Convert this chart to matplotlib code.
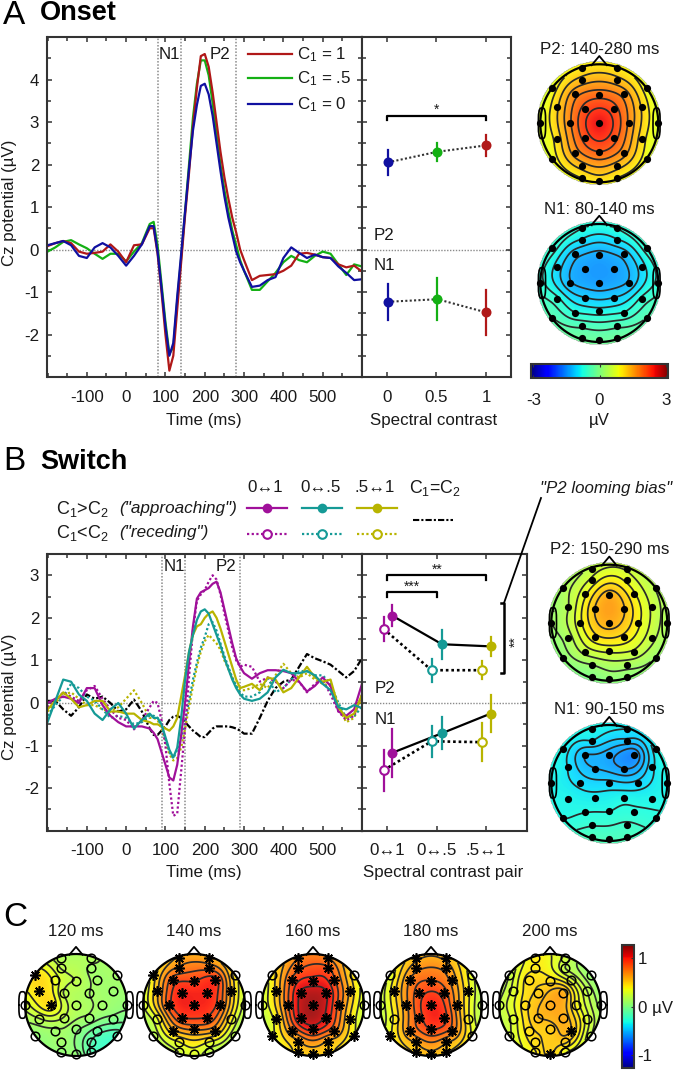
import numpy as np
import matplotlib
matplotlib.use("Agg")
import matplotlib.pyplot as plt
from matplotlib.cm import ScalarMappable
from matplotlib.colors import Normalize

plt.rcParams['font.family'] = ['Liberation Sans', 'DejaVu Sans']
plt.rcParams['mathtext.fontset'] = 'custom'
plt.rcParams['mathtext.rm'] = 'Liberation Sans'
plt.rcParams['mathtext.it'] = 'Liberation Sans:italic'
plt.rcParams['mathtext.default'] = 'regular'
plt.rcParams['axes.unicode_minus'] = False

# ---------- time axis of the ERP curves ----------
time_ms = list(range(-200, 61, 20)) + list(range(70, 301, 10)) + list(range(320, 601, 20))

# ---------- panel A: onset ERPs ----------
onset_c1_1 = [.08,.15,.2,.15,-.05,-.1,-.08,-.05,.12,-.05,-.3,.1,.12,.5,
 .5,-.1,-1.0,-2.0,-2.85,-2.5,-1.4,-.3,.8,1.8,2.9,3.8,4.55,4.6,4.3,3.7,3.0,2.3,1.7,1.2,.75,.4,0,-.25,
 -.72,-.62,-.6,-.58,-.5,-.38,-.1,-.08,-.12,-.18,-.2,-.35,-.42,-.38,-.52]
onset_c1_05 = [-.05,.05,.18,.22,.12,.03,-.1,-.22,-.1,-.1,-.28,-.05,.15,.6,
 .65,.1,-.8,-1.7,-2.45,-2.3,-1.2,-.2,.9,2.0,3.1,3.9,4.45,4.45,4.1,3.45,2.7,2.0,1.4,.9,.45,.1,-.25,-.5,
 -.95,-.95,-.75,-.55,-.3,-.15,-.25,-.3,-.15,-.05,-.1,-.35,-.6,-.35,-.4]
onset_c1_0 = [.1,.15,.2,.1,-.15,-.2,.05,.15,.05,-.15,-.38,-.15,.12,.55,
 .55,-.05,-.9,-1.8,-2.5,-2.2,-1.1,-.1,.9,1.9,2.8,3.4,3.85,3.9,3.65,3.15,2.5,1.85,1.25,.75,.35,-.05,-.3,-.5,
 -.88,-.85,-.72,-.65,-.2,.05,-.08,-.2,-.12,-.18,-.2,-.4,-.55,-.72,-.7]

# ---------- panel B: switch ERPs ----------
app_01 = [0,.1,.15,.1,0,.35,.35,-.05,-.3,-.45,-.55,-.55,-.55,-.6,
 -.7,-.85,-1.15,-1.45,-1.75,-1.82,-1.45,-.75,0,.95,1.8,2.45,2.6,2.65,2.7,2.8,2.85,2.6,2.2,1.8,1.4,1.05,.85,.7,
 .57,.7,.77,.77,.75,.7,.5,.27,.4,.6,.4,-.2,-.3,-.15,.45]
rec_01 = [-.1,.05,.25,.15,.05,.3,.4,.1,-.15,-.35,-.4,-.62,-.4,-.1,
 .05,0,-.4,-1.0,-1.9,-2.65,-2.6,-1.6,-.6,.6,1.7,2.4,2.55,2.65,2.85,3.0,2.9,2.55,2.1,1.7,1.3,1.0,.85,.9,
 .85,.5,.6,.5,.35,.55,.5,.25,.45,.55,.2,-.2,-.4,-.3,.2]
app_05 = [-.45,.05,.55,.5,.2,.05,-.25,-.4,-.15,0,-.25,-.6,-.4,-.25,
 -.35,-.35,-.5,-.8,-1.1,-1.28,-1.05,-.35,.55,1.2,1.6,1.95,2.15,2.2,2.1,1.85,1.6,1.35,1.05,.8,.55,.35,.2,.1,
 .05,.1,.25,.6,.78,.7,.7,.75,.65,.45,.3,-.1,-.15,-.05,-.12]
rec_05 = [-.3,-.05,.15,.45,.35,.15,.05,-.15,-.35,-.3,-.35,-.5,-.45,-.3,
 -.3,-.35,-.55,-.85,-1.15,-1.3,-1.1,-.85,-.45,.05,.55,.95,1.3,1.55,1.85,1.9,1.7,1.4,1.1,.85,.6,.4,.25,.15,
 .15,.25,.6,.25,.35,.55,.75,.75,.65,.65,.45,0,-.35,-.3,-.1]
app_51 = [-.15,.05,.25,.1,-.1,-.05,.05,.05,-.2,-.2,-.25,-.25,-.4,-.45,
 -.5,-.5,-.55,-.6,-.65,-.55,-.35,.15,.65,1.2,1.6,1.8,1.85,2.0,2.1,2.15,2.0,1.75,1.45,1.15,.85,.55,.35,.38,
 .45,.3,.6,.55,.25,.35,.6,.85,.6,.5,.55,-.1,-.35,-.25,.2]
rec_51 = [-.2,0,.2,.25,.1,-.05,-.05,-.15,-.2,-.1,.1,.3,0,-.35,
 -.35,-.4,-.6,-.9,-1.2,-1.35,-1.3,-1.05,-.6,-.1,.4,.85,1.2,1.45,1.6,1.5,1.4,1.25,1.0,.8,.6,.4,.3,.3,
 .35,.45,.35,.65,.92,.7,.6,.7,.55,.45,.4,-.1,-.45,-.35,.15]
equal_c = [.05,.05,-.15,-.3,-.1,.2,.1,.15,0,-.2,-.15,.08,-.2,-.6,
 -.75,-.75,-.65,-.55,-.4,-.32,-.3,-.35,-.45,-.55,-.65,-.72,-.8,-.8,-.7,-.6,-.55,-.55,-.55,-.55,-.57,-.6,-.65,-.72,
 -.72,-.35,.05,.35,.5,.55,.85,1.15,1.05,.98,.9,.75,.6,.75,1.05]

# ---------- summary points ----------
contrast = [0.01, 0.51, 1.0]
a_p2 = [2.05, 2.3, 2.45];    a_p2_err = [.29, .21, .25]
a_n1 = [-1.23, -1.17, -1.48]; a_n1_err = [.43, .49, .52]

pair_labels = ['0\u21941', '0\u2194.5', '.5\u21941']
pair_app_x = [.107, 1.11, 2.09]
pair_rec_x = [-.07, .9, 1.91]
b_p2_app = [2.05, 1.38, 1.33];  b_p2_app_err = [.25, .34, .23]
b_p2_rec = [1.74, .77, .77];    b_p2_rec_err = [.28, .27, .21]
b_n1_app = [-1.17, -.71, -.25]; b_n1_app_err = [.57, .38, .44]
b_n1_rec = [-1.58, -.9, -.92];  b_n1_rec_err = [.48, .36, .44]

# ---------- scalp maps: electrode layout and values (uV) ----------
sites = ['Fp1','Fp2','AF3','AF4','F7','F3','Fz','F4','F8','FC5','FC1','FC2','FC6','T7','C3','Cz','C4','T8',
         'CP5','CP1','CP2','CP6','P7','P3','Pz','P4','P8','PO3','PO4','O1','Oz','O2']
site_x = [-.3,.3,-.3,.3,-.8,-.42,0,.42,.81,-.72,-.24,.25,.73,-1,-.5,0,.5,1,
          -.72,-.24,.25,.73,-.8,-.42,0,.42,.81,-.3,.3,-.3,0,.3]
site_y = [.93,.93,.73,.73,.59,.49,.48,.49,.59,.27,.24,.24,.27,0,0,0,0,0,
          -.27,-.25,-.25,-.27,-.6,-.5,-.48,-.5,-.6,-.73,-.73,-.93,-.97,-.93]
map_a_p2 = [1.0,1.0,1.3,1.3,.8,1.6,1.85,1.6,.8,1.15,2.05,2.05,1.15,.7,1.65,2.45,1.65,.7,1.05,2.05,2.05,1.05,.8,1.55,1.95,1.55,.8,1.3,1.3,.95,1.05,.95]
map_a_n1 = [-.7,-.7,-.9,-.9,-.6,-1.15,-1.3,-1.15,-.6,-.95,-1.35,-1.35,-.95,-.65,-1.2,-1.35,-1.2,-.65,-.65,-1.05,-1.05,-.65,-.35,-.7,-.8,-.7,-.35,-.4,-.4,-.2,-.2,-.2]
map_b_p2 = [.5,.6,.7,.8,.3,.8,1.4,.9,.4,.4,1.3,1.3,.6,.2,.8,1.4,.9,.3,.3,1.0,1.0,.5,.1,.5,.7,.6,.2,.2,.3,0,.1,.1]
map_b_n1 = [-.8,-.9,-.9,-1.1,-.8,-1.2,-1.3,-1.5,-.8,-.9,-1.2,-1.35,-.95,-.8,-.95,-1.0,-1.0,-.8,-.8,-.85,-.8,-.8,-.75,-.75,-.75,-.7,-.7,-.6,-.55,-.45,-.45,-.45]
map_120 = [.15,.15,.2,.1,.45,.35,.2,.1,.1,.45,.2,.12,.08,.25,.45,.15,.1,.05,.2,.2,.1,0,.05,.1,.05,-.1,-.2,.1,-.15,.05,.05,-.15]
map_140 = [.6,.6,.7,.75,.4,.85,.9,.95,.4,.55,1.0,1.0,.55,.25,.85,1.0,.85,.2,.35,.9,.9,.4,.15,.55,.7,.6,.15,.35,.35,.25,.3,.2]
map_160 = [.7,.7,.8,.85,.4,.85,1.0,.85,.4,.5,1.1,1.1,.55,.25,.8,1.2,.8,.25,.4,1.1,1.05,.45,.3,.7,1.0,.75,.35,.55,.55,.5,.5,.5]
map_180 = [.55,.55,.65,.65,.3,.7,.8,.65,.3,.45,.85,.85,.4,.2,.65,1.0,.65,.15,.4,.85,.95,.4,.35,.7,.9,.75,.35,.6,.6,.5,.55,.5]
map_200 = [.4,.25,.4,.2,.2,.45,.45,.3,.05,.3,.5,.6,.2,.2,.45,.6,.4,.1,.3,.55,.6,.3,.25,.45,.5,.55,.2,.45,.5,.4,.5,.35]
sig_120 = ['F7','FC5','C3']
sig_140 = ['Fp1','Fp2','AF3','AF4','F7','F3','Fz','F4','FC5','FC1','FC2','FC6','C3','Cz','C4','CP1','CP2','P3','Pz','P4']
sig_160 = ['Fp1','Fp2','AF3','AF4','F3','Fz','F4','FC5','FC1','FC2','FC6','C3','Cz','C4','CP5','CP1','CP2','CP6','P7','P3','Pz','P4','P8','PO3','PO4','O1','Oz','O2']
sig_180 = ['Fp1','Fp2','AF3','AF4','F3','Fz','F4','FC5','FC1','FC2','FC6','C3','Cz','C4','CP1','CP2','P7','P3','Pz','P4','PO3','PO4','O1','Oz','O2']
sig_200 = ['P4','Oz']
c_times = ['120 ms','140 ms','160 ms','180 ms','200 ms']

# ---------- colours ----------
RED, GREEN, BLUE = '#b01818', '#14b014', '#1010a0'
PURPLE, TEAL, OLIVE = '#a0109a', '#159a96', '#b8b400'
SPINE, TXT = '#333333', '#1a1a1a'
FS = 12.2
DOT = (0, (1, 1.1))

fig = plt.figure(figsize=(6.77, 10.71), dpi=100)
W, H = 677, 1071

def px_axes(l, t, r, b):
    return fig.add_axes([l / W, 1 - b / H, (r - l) / W, (b - t) / H])

ov = fig.add_axes([0, 0, 1, 1], zorder=10)
ov.axis('off')

def style(ax, xticks, xminor, yticks, ylim, xlim):
    ax.set_xlim(*xlim)
    ax.set_ylim(*ylim)
    ax.set_xticks(xticks)
    ax.set_xticks(xminor, minor=True)
    ax.set_yticks(yticks)
    ax.set_yticks(np.arange(ylim[0], ylim[1] + .01, .5), minor=True)
    ax.tick_params(which='both', direction='in', top=True, right=True, color=SPINE, labelcolor=TXT, labelsize=FS)
    ax.tick_params(which='major', length=3.6, width=1.1)
    ax.tick_params(which='minor', length=2.6, width=1.1)
    ax.tick_params(axis='x', pad=9)
    ax.tick_params(axis='y', pad=6)
    for s in ax.spines.values():
        s.set_linewidth(1.5)
        s.set_color(SPINE)
    ax.axhline(0, color='#8a8a8a', lw=1, ls=DOT, zorder=1)

# ---------- ERP panels ----------
def erp_axes(t, b, ylim, yticks, wins, ylab_y, xlab_y):
    ax = px_axes(47.5, t, 362, b)
    style(ax, list(range(-100, 501, 100)), list(range(-200, 601, 50)), yticks, ylim, (-200, 600))
    for w in wins:
        ax.axvline(w, color='#8a8a8a', lw=1.1, ls=DOT, zorder=1)
    ax.set_xlabel('Time (ms)', fontsize=FS, color=TXT, va='center')
    ax.xaxis.set_label_coords(204, xlab_y, transform=ov.transData)
    ax.set_ylabel('Cz potential (\u00b5V)', fontsize=FS, color=TXT, va='center')
    ax.yaxis.set_label_coords(10, ylab_y, transform=ov.transData)
    return ax

ax_a = erp_axes(37, 377, (-3, 5), list(range(-2, 5)), [80, 140, 280], 203, 421)
ax_a.plot(time_ms, onset_c1_05, color=GREEN, lw=1.6)
ax_a.plot(time_ms, onset_c1_1, color=RED, lw=1.6)
ax_a.plot(time_ms, onset_c1_0, color=BLUE, lw=1.6)
ax_a.text(110, 4.58, 'N1', ha='center', va='center', fontsize=FS, color=TXT)
ax_a.text(240, 4.58, 'P2', ha='center', va='center', fontsize=FS, color=TXT)

ax_b = erp_axes(554, 830.7, (-3, 3.5), list(range(-2, 4)), [90, 150, 290], 697, 873)
for s, c, ls in [(equal_c, 'black', (0, (3, 1, 1, 1))), (rec_51, OLIVE, DOT), (rec_05, TEAL, DOT), (rec_01, PURPLE, DOT),
                 (app_01, PURPLE, '-'), (app_51, OLIVE, '-'), (app_05, TEAL, '-')]:
    ax_b.plot(time_ms, s, color=c, lw=1.6, ls=ls)
ax_b.text(123, 3.2, 'N1', ha='center', va='center', fontsize=FS, color=TXT)
ax_b.text(255, 3.2, 'P2', ha='center', va='center', fontsize=FS, color=TXT)

# ---------- summary panel A ----------
ax_a2 = px_axes(362, 37, 511, 377)
style(ax_a2, [0, .5, 1], [], list(range(-2, 5)), (-3, 5), (-.25, 1.25))
ax_a2.set_xticklabels(['0', '0.5', '1'])
ax_a2.set_yticklabels([])
ax_a2.set_xlabel('Spectral contrast', fontsize=FS, color=TXT, va='center')
ax_a2.xaxis.set_label_coords(434, 421, transform=ov.transData)
for vals, errs in [(a_p2, a_p2_err), (a_n1, a_n1_err)]:
    ax_a2.plot(contrast, vals, color='#333333', lw=1.5, ls=DOT, zorder=2)
    for x, v, e, c in zip(contrast, vals, errs, [BLUE, GREEN, RED]):
        ax_a2.plot([x, x], [v - e, v + e], color=c, lw=1.6, zorder=3)
        ax_a2.plot([x], [v], 'o', color=c, ms=7.2, mew=0, zorder=4)
ax_a2.plot([0, 0, 1, 1], [3.05, 3.15, 3.15, 3.05], color='black', lw=1.6)
ax_a2.text(.5, 3.28, '*', ha='center', va='center', fontsize=10, color=TXT)
ax_a2.text(-.13, .34, 'P2', va='center', fontsize=FS, color=TXT)
ax_a2.text(-.13, -.38, 'N1', va='center', fontsize=FS, color=TXT)

# ---------- summary panel B ----------
ax_b2 = px_axes(362, 554, 526.7, 830.7)
style(ax_b2, [0, 1, 2], [], list(range(-2, 4)), (-3, 3.5), (-.505, 2.82))
ax_b2.set_xticklabels(pair_labels)
ax_b2.set_yticklabels([])
ax_b2.set_xlabel('Spectral contrast pair', fontsize=FS, color=TXT, va='center')
ax_b2.xaxis.set_label_coords(443, 873, transform=ov.transData)
for vals, errs, xs, filled in [(b_p2_rec, b_p2_rec_err, pair_rec_x, False), (b_p2_app, b_p2_app_err, pair_app_x, True),
                               (b_n1_rec, b_n1_rec_err, pair_rec_x, False), (b_n1_app, b_n1_app_err, pair_app_x, True)]:
    ax_b2.plot(xs, vals, color='black', lw=1.6 if filled else 1.9, ls='-' if filled else DOT, zorder=2)
    for x, v, e, c in zip(xs, vals, errs, [PURPLE, TEAL, OLIVE]):
        ax_b2.plot([x, x], [v - e, v + e], color=c, lw=1.6, zorder=3)
        ax_b2.plot([x], [v], 'o', mec=c, mfc=c if filled else 'white', ms=7.2 if filled else 6.2,
                   mew=0 if filled else 1.5, zorder=4)
ax_b2.plot([0, 0, 2, 2], [2.9, 3.0, 3.0, 2.9], color='black', lw=1.6)
ax_b2.plot([0, 0, 1, 1], [2.5, 2.6, 2.6, 2.5], color='black', lw=1.6)
ax_b2.plot([2.3, 2.36, 2.36, 2.3], [2.34, 2.34, .7, .7], color='black', lw=1.8)
ax_b2.text(1.02, 3.13, '**', ha='center', va='center', fontsize=10, color=TXT)
ax_b2.text(.5, 2.73, '***', ha='center', va='center', fontsize=10, color=TXT)
ax_b2.text(2.6, 1.45, '**', ha='center', va='center', fontsize=10, color=TXT, rotation=90)
ax_b2.text(-.25, .34, 'P2', va='center', fontsize=FS, color=TXT)
ax_b2.text(-.25, -.38, 'N1', va='center', fontsize=FS, color=TXT)

# ---------- scalp maps ----------
sx, sy = np.array(site_x), np.array(site_y)

def biharm(vals, X, Y):
    d = np.hypot(sx[:, None] - sx[None, :], sy[:, None] - sy[None, :])
    d[d == 0] = 1
    G = d ** 2 * (np.log(d) - 1)
    np.fill_diagonal(G, 0)
    w = np.linalg.solve(G, np.array(vals, float))
    r = np.hypot(X[..., None] - sx, Y[..., None] - sy)
    r[r == 0] = 1e-6
    return (r ** 2 * (np.log(r) - 1) * w).sum(-1)

def head(cx, cy, R, vals, norm, disc=1.05, ear=(.91, 1.03), nlev=6, sig=None):
    e = disc
    g = np.linspace(-e, e, 170)
    X, Y = np.meshgrid(g, g[::-1])
    Z = biharm(vals, X, Y)
    rr = np.hypot(X, Y)
    ov.imshow(np.ma.masked_where(rr > disc, Z), cmap='jet', norm=norm, aspect='auto', origin='upper',
              extent=(cx - R * e, cx + R * e, cy + R * e, cy - R * e), interpolation='bilinear', alpha=.9, zorder=1)
    inside = np.ma.masked_where(rr > .985, Z)
    zin = Z[rr <= .985]
    lev = np.linspace(zin.min(), zin.max(), nlev + 2)[1:-1]
    ov.contour(cx + R * X, cy - R * Y, inside, levels=lev, colors='#2a2a2a', linewidths=1.25,
               negative_linestyles='solid', zorder=2)
    th = np.linspace(0, 2 * np.pi, 300)
    ov.plot(cx + R * np.cos(th), cy + R * np.sin(th), color='black', lw=1.6, zorder=3)
    ov.plot([cx - .13 * R, cx, cx + .13 * R], [cy - R * .985, cy - R * 1.14, cy - R * .985], color='black', lw=1.3, zorder=3)
    inner, outer = ear
    ct, st = np.cos(th), np.sin(th)
    ex = (outer + inner) / 2 + (outer - inner) / 2 * np.sign(ct) * np.abs(ct) ** .6
    ey = .26 * np.sign(st) * np.abs(st) ** .6
    for sgn in (-1, 1):
        ov.plot(cx + sgn * R * ex, cy + R * ey, color='black', lw=1.2, zorder=3)
    if sig is None:
        ov.plot(cx + R * sx, cy - R * sy, 'o', color='black', ms=5.2, mew=0, zorder=4)
    else:
        for n, x, y in zip(sites, sx, sy):
            if n in sig:
                ov.plot(cx + R * x, cy - R * y, marker=(8, 2, 0), color='black', ms=7.5, mew=1.2, zorder=4)
            else:
                ov.plot(cx + R * x, cy - R * y, 'o', mfc='none', mec='black', ms=6.2, mew=1.1, zorder=4)

norm3 = Normalize(-3, 3)
normc = Normalize(-1.27, 1.27)
head(599.3, 123.3, 59, map_a_p2, norm3)
head(599.3, 283, 59, map_a_n1, norm3)
head(609.3, 622.7, 58, map_b_p2, norm3)
head(609.3, 783, 58, map_b_n1, norm3)
c_maps = [map_120, map_140, map_160, map_180, map_200]
c_sigs = [sig_120, sig_140, sig_160, sig_180, sig_200]
c_cx = [76, 194, 313, 431, 550]
for m, sg, cx, lab in zip(c_maps, c_sigs, c_cx, c_times):
    head(cx, 1005, 51, m, normc, disc=1.0, ear=(.98, 1.12), nlev=7, sig=sg)
    ov.text(cx, 932, lab, ha='center', va='center', fontsize=FS, color=TXT)

ov.text(599.3, 49, 'P2: 140-280 ms', ha='center', va='center', fontsize=FS, color=TXT)
ov.text(599.3, 210, 'N1: 80-140 ms', ha='center', va='center', fontsize=FS, color=TXT)
ov.text(609.3, 549, 'P2: 150-290 ms', ha='center', va='center', fontsize=FS, color=TXT)
ov.text(609.3, 709, 'N1: 90-150 ms', ha='center', va='center', fontsize=FS, color=TXT)

# ---------- colour bars ----------
cax = px_axes(531, 364, 668, 378)
cb = fig.colorbar(ScalarMappable(norm3, 'jet'), cax=cax, orientation='horizontal')
cb.set_ticks([-2.9, 0, 2.9], labels=['-3', '0', '3'])
cax.tick_params(labelsize=FS, labelcolor=TXT, length=2, color=SPINE, pad=11, direction='in', top=True)
cb.outline.set_linewidth(1.5)
cb.outline.set_edgecolor(SPINE)
ov.text(599.3, 420, '\u00b5V', ha='center', va='center', fontsize=FS, color=TXT)

cax2 = px_axes(622, 945, 633.5, 1068)
cb2 = fig.colorbar(ScalarMappable(normc, 'jet'), cax=cax2, orientation='vertical')
cb2.set_ticks([-1, 0, 1], labels=['-1', '0 \u00b5V', '1'])
cax2.tick_params(labelsize=FS, labelcolor=TXT, length=2, color=SPINE, pad=3, direction='in')
cb2.outline.set_linewidth(1.5)
cb2.outline.set_edgecolor(SPINE)

# ---------- legends ----------
for y, c, lab in [(54, RED, 'C$_1$ = 1'), (78, GREEN, 'C$_1$ = .5'), (104, BLUE, 'C$_1$ = 0')]:
    ov.plot([248, 292], [y, y], color=c, lw=1.6)
    ov.text(297, y + 1, lab, va='center', fontsize=FS, color=TXT)

for xm, lab in [(265, pair_labels[0]), (321, pair_labels[1]), (375, pair_labels[2])]:
    ov.text(xm, 487, lab, ha='center', va='center', fontsize=FS, color=TXT)
ov.text(435, 488, 'C$_1$=C$_2$', ha='center', va='center', fontsize=FS + .6, color=TXT)
ov.text(56, 509, 'C$_1$>C$_2$', va='center', fontsize=13, color=TXT)
ov.text(56, 533, 'C$_1$<C$_2$', va='center', fontsize=13, color=TXT)
ov.text(119, 509, '("approaching")', va='center', fontsize=12.3, color=TXT, style='italic')
ov.text(119, 532, '("receding")', va='center', fontsize=12.3, color=TXT, style='italic')
for (x0, x1), c in zip([(247, 287), (302, 342), (357, 397)], [PURPLE, TEAL, OLIVE]):
    xm = (x0 + x1) / 2
    ov.plot([x0, x1], [508, 508], color=c, lw=1.6)
    ov.plot([xm], [508], 'o', color=c, ms=7, mew=0)
    ov.plot([x0, x1], [534, 534], color=c, lw=1.6, ls=DOT)
    ov.plot([xm], [534], 'o', mec=c, mfc='white', ms=6.2, mew=1.5)
ov.plot([413, 453], [520, 520], color='black', lw=1.5, ls=(0, (3, 1, 1, 1)))

ov.plot([504, 541], [603, 498], color='black', lw=1.3)
ov.text(606.5, 488, '"P2 looming bias"', ha='center', va='center', fontsize=FS, style='italic', color=TXT)

# ---------- panel letters ----------
ov.text(3, 16, 'A', va='center', fontsize=24, color='black')
ov.text(40, 13, 'Onset', va='center', fontsize=19.5, weight='bold', color='black')
ov.text(3, 461, 'B', va='center', fontsize=24, color='black')
ov.text(40, 462, 'Switch', va='center', fontsize=19.5, weight='bold', color='black')
ov.text(3, 918, 'C', va='center', fontsize=24, color='black')

ov.set_xlim(0, W)
ov.set_ylim(H, 0)
fig.savefig('out.png', dpi=100)
